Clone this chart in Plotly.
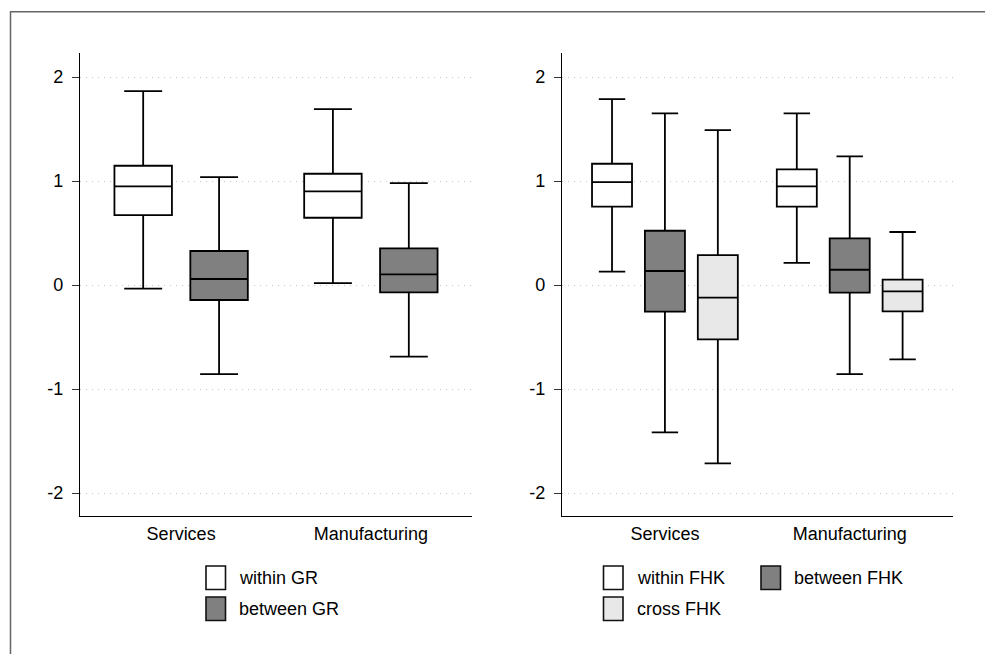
import plotly.graph_objects as go

# Sectors shown on both panels
categories = ["Services", "Manufacturing"]
ytick_vals = [-2, -1, 0, 1, 2]
ytick_text = ["-2", "-1", "0", "1", "2"]

# Left panel: GR decomposition (box statistics per sector)
gr_names = ["within GR", "between GR"]
gr_within_lo = [-0.035, 0.019]
gr_within_q1 = [0.673, 0.647]
gr_within_med = [0.949, 0.900]
gr_within_q3 = [1.147, 1.070]
gr_within_hi = [1.865, 1.692]

gr_between_lo = [-0.856, -0.689]
gr_between_q1 = [-0.144, -0.070]
gr_between_med = [0.058, 0.103]
gr_between_q3 = [0.327, 0.353]
gr_between_hi = [1.038, 0.980]

# Right panel: FHK decomposition
fhk_names = ["within FHK", "between FHK", "cross FHK"]
fhk_within_lo = [0.128, 0.212]
fhk_within_q1 = [0.753, 0.753]
fhk_within_med = [0.990, 0.949]
fhk_within_q3 = [1.166, 1.112]
fhk_within_hi = [1.788, 1.651]

fhk_between_lo = [-1.417, -0.856]
fhk_between_q1 = [-0.256, -0.074]
fhk_between_med = [0.135, 0.147]
fhk_between_q3 = [0.522, 0.449]
fhk_between_hi = [1.651, 1.237]

fhk_cross_lo = [-1.715, -0.715]
fhk_cross_q1 = [-0.522, -0.253]
fhk_cross_med = [-0.122, -0.061]
fhk_cross_q3 = [0.288, 0.051]
fhk_cross_hi = [1.490, 0.510]

fills = ["#ffffff", "#808080", "#e8e8e8"]

W, H = 985, 654
FONT = "Liberation Sans, Arial, Helvetica, sans-serif"
FS = 18


def px_x(x):
    return x / W


def px_y(y):
    return 1 - y / H


fig = go.Figure()

panels = [
    dict(xa="x", ya="y", names=gr_names, slot=0.400, width=0.303,
         stats=[(gr_within_lo, gr_within_q1, gr_within_med, gr_within_q3, gr_within_hi),
                (gr_between_lo, gr_between_q1, gr_between_med, gr_between_q3, gr_between_hi)]),
    dict(xa="x2", ya="y2", names=fhk_names, slot=0.2863, width=0.2165,
         stats=[(fhk_within_lo, fhk_within_q1, fhk_within_med, fhk_within_q3, fhk_within_hi),
                (fhk_between_lo, fhk_between_q1, fhk_between_med, fhk_between_q3, fhk_between_hi),
                (fhk_cross_lo, fhk_cross_q1, fhk_cross_med, fhk_cross_q3, fhk_cross_hi)]),
]

for p in panels:
    n = len(p["names"])
    for j, (name, st) in enumerate(zip(p["names"], p["stats"])):
        lo, q1, med, q3, hi = st
        off = (j - (n - 1) / 2) * p["slot"]
        fig.add_trace(go.Box(
            name=name,
            x=[i + off for i in range(len(categories))],
            lowerfence=lo, q1=q1, median=med, q3=q3, upperfence=hi,
            width=p["width"], whiskerwidth=0.66,
            fillcolor=fills[j],
            line=dict(color="#000000", width=1.8),
            boxpoints=False, showlegend=False, hoverinfo="skip",
            xaxis=p["xa"], yaxis=p["ya"],
        ))

ydom = [px_y(516), px_y(53)]
yrange = [-2.221, 2.231]

common_x = dict(
    tickmode="array", tickvals=[0, 1], ticktext=categories,
    showgrid=False, zeroline=False, showline=True, linecolor="#000000",
    linewidth=1.3, ticks="", tickfont=dict(family=FONT, size=FS, color="#000000"),
    ticklabelstandoff=1, automargin=False, fixedrange=True,
)
common_y = dict(
    range=yrange, domain=ydom, tickmode="array", tickvals=ytick_vals,
    ticktext=ytick_text, showgrid=True, gridcolor="#c4c4c4", gridwidth=1,
    griddash="1px,5px", zeroline=False, showline=True, linecolor="#000000",
    linewidth=1.3, ticks="outside", ticklen=7, tickwidth=1.2,
    tickcolor="#333333", tickfont=dict(family=FONT, size=FS, color="#000000"),
    ticklabelstandoff=5, automargin=False, fixedrange=True,
)

fig.update_layout(
    template="none",
    width=W, height=H,
    margin=dict(l=0, r=0, t=0, b=0),
    paper_bgcolor="#ffffff", plot_bgcolor="#ffffff",
    boxmode="overlay",
    xaxis={**common_x, "domain": [px_x(80), px_x(472)], "range": [-0.533, 1.533], "anchor": "y"},
    yaxis={**common_y, "anchor": "x"},
    xaxis2={**common_x, "domain": [px_x(562), px_x(953)], "range": [-0.557, 1.559], "anchor": "y2"},
    yaxis2={**common_y, "anchor": "x2"},
    font=dict(family=FONT, size=FS, color="#000000"),
)

shapes = []
annotations = []

# Outer frame
shapes.append(dict(type="rect", xref="paper", yref="paper",
                   x0=px_x(10.5), x1=px_x(1000), y0=px_y(700), y1=px_y(11.7),
                   line=dict(color="#666666", width=1.5), fillcolor="rgba(0,0,0,0)"))

# Legend entries: (name, fill, icon left x, icon top y)
legend_layout = [
    (gr_names[0], fills[0], 206, 566),
    (gr_names[1], fills[1], 206, 597),
    (fhk_names[0], fills[0], 603.5, 566),
    (fhk_names[1], fills[1], 761, 566),
    (fhk_names[2], fills[2], 603.5, 597),
]
for name, fill, lx, ty in legend_layout:
    shapes.append(dict(type="rect", xref="paper", yref="paper",
                       x0=px_x(lx), x1=px_x(lx + 19.5), y0=px_y(ty + 23.5), y1=px_y(ty),
                       line=dict(color="#111111", width=1.6), fillcolor=fill))
    annotations.append(dict(xref="paper", yref="paper", x=px_x(lx + 31), y=px_y(ty + 12),
                            text=name, showarrow=False, xanchor="left", yanchor="middle",
                            font=dict(family=FONT, size=FS, color="#000000")))

fig.update_layout(shapes=shapes, annotations=annotations)

fig.write_html("out.html")
